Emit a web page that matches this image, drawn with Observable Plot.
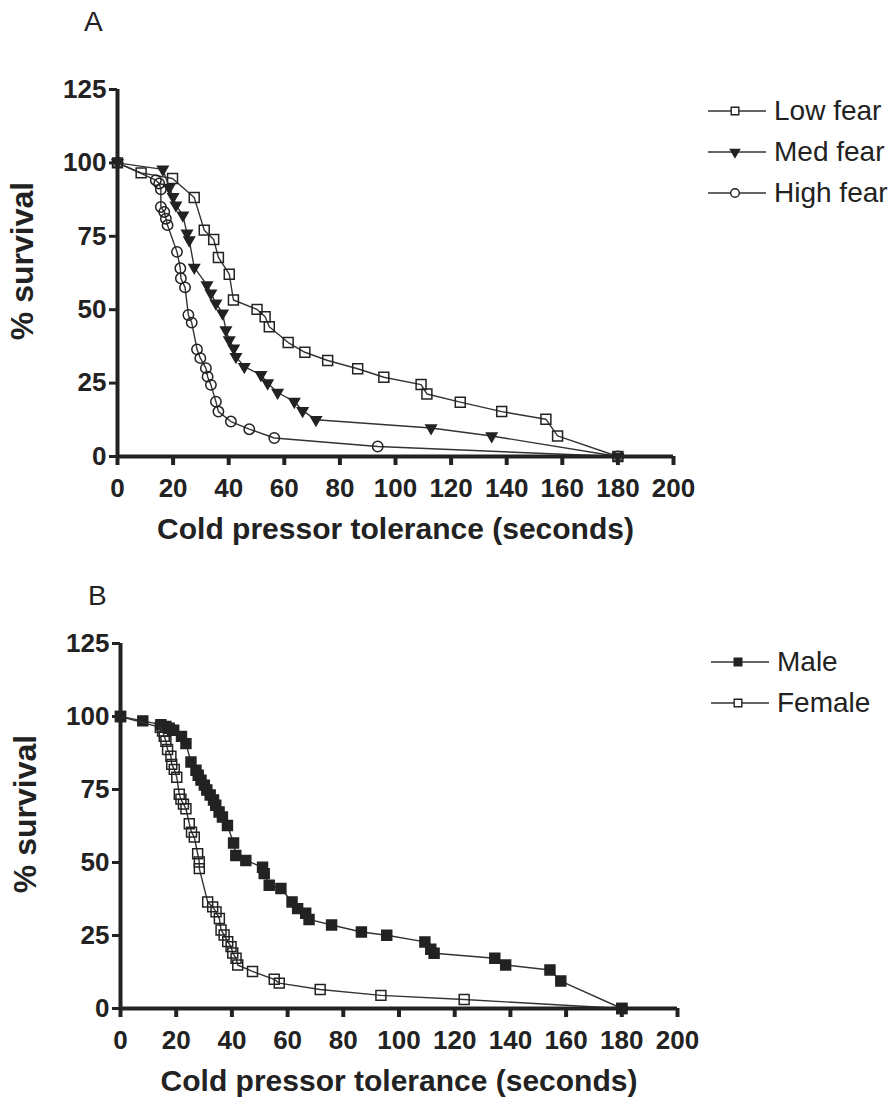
<!DOCTYPE html>
<html>
<head>
<meta charset="utf-8">
<script src="https://cdn.jsdelivr.net/npm/d3@7"></script>
<script src="https://cdn.jsdelivr.net/npm/@observablehq/plot@0.6"></script>
<style>
  html, body { margin: 0; padding: 0; background: #fff; }
  #page { position: relative; width: 896px; height: 1098px; overflow: hidden; font-family: "Liberation Sans", Arial, sans-serif; color: #222; }
  .panel { position: absolute; left: 0; }
  .plabel { position: absolute; font-size: 28px; font-family: "Liberation Sans", Arial, sans-serif; color: #222; line-height: 1; }
  .legend { position: absolute; }
  .legrow { position: absolute; left: 0; height: 30px; display: flex; align-items: center; white-space: nowrap; }
  .legrow span { font-size: 28px; color: #222; margin-left: 6px; }
</style>
</head>
<body>
<div id="page">
  <div class="plabel" style="left:84px; top:8px;">A</div>
  <div class="plabel" style="left:88px; top:582px;">B</div>
  <div id="panelA" class="panel" style="top:0px;"></div>
  <div id="panelB" class="panel" style="top:551px;"></div>
  <div id="legendA" class="legend" style="left:708px; top:0px;"></div>
  <div id="legendB" class="legend" style="left:711px; top:551px;"></div>
</div>
<script>
// ---------- data ----------
const xTicks = [0, 20, 40, 60, 80, 100, 120, 140, 160, 180, 200];
const yTicks = [0, 25, 50, 75, 100, 125];
const xTitle = "Cold pressor tolerance (seconds)";
const yTitle = "% survival";

const seriesA = ["Low fear", "Med fear", "High fear"];
const lowFearT = [0, 8.5, 19.8, 27.6, 31.2, 34.6, 36.3, 40.2, 41.7, 50.2, 53.1, 54.6, 61.4, 67.4, 75.6, 86.4, 95.8, 109.2, 111.3, 123.3, 138.2, 154.1, 158.3, 180];
const lowFearS = [100, 96.6, 94.7, 88.2, 77.1, 73.9, 67.8, 62.1, 53.3, 50.1, 47.6, 44.2, 38.8, 35.5, 32.7, 29.9, 27.0, 24.5, 21.3, 18.5, 15.3, 12.7, 7.0, 0];
const medFearT = [0, 16.3, 18.6, 20.0, 21.0, 23.5, 25.0, 25.8, 27.6, 32.2, 33.6, 35.4, 37.8, 39.0, 40.2, 41.8, 42.6, 45.6, 51.6, 54.0, 57.6, 63.6, 66.6, 71.4, 112.8, 134.6, 180];
const medFearS = [100, 97.8, 91.6, 88.5, 85.6, 82.2, 76.0, 73.7, 64.4, 58.4, 55.6, 52.2, 48.8, 43.1, 39.7, 36.9, 34.0, 30.6, 27.8, 25.0, 21.8, 18.7, 15.6, 12.5, 9.7, 7.0, 0];
const highFearT = [0, 13.8, 15.0, 15.6, 15.6, 16.8, 17.4, 18.0, 21.4, 22.6, 22.8, 24.3, 25.5, 26.7, 28.6, 29.8, 31.8, 32.4, 33.6, 35.4, 36.3, 40.8, 47.4, 56.4, 93.6, 180];
const highFearS = [100, 94.1, 93.0, 91.0, 85.0, 83.3, 81.0, 78.8, 69.7, 64.1, 60.7, 57.6, 48.2, 45.6, 36.5, 33.5, 30.1, 27.2, 24.4, 18.7, 15.3, 11.9, 9.3, 6.3, 3.4, 0];

const seriesB = ["Male", "Female"];
const maleT = [0, 8.0, 14.5, 16.3, 17.5, 19.1, 21.9, 23.5, 25.3, 27.1, 27.9, 28.9, 30.1, 31.0, 32.2, 33.4, 34.2, 35.4, 36.6, 38.4, 40.6, 41.4, 45.0, 51.0, 51.6, 53.4, 57.6, 61.6, 63.6, 66.5, 67.7, 75.8, 86.5, 95.6, 109.3, 111.4, 112.6, 134.4, 138.3, 154.2, 158.1, 180];
const maleS = [100, 98.5, 97.2, 96.6, 96.0, 95.3, 93.2, 90.7, 84.4, 81.6, 79.9, 78.2, 76.5, 74.8, 73.1, 71.4, 69.6, 67.3, 65.6, 62.7, 56.7, 52.4, 50.7, 48.4, 46.2, 42.2, 41.1, 36.5, 34.2, 32.6, 30.5, 28.6, 26.2, 25.1, 22.8, 20.3, 18.9, 17.2, 14.9, 13.2, 9.4, 0];
const femaleT = [0, 14.3, 15.1, 15.7, 16.3, 16.9, 18.1, 18.4, 19.3, 20.2, 21.1, 21.7, 22.6, 23.5, 24.7, 25.5, 26.5, 27.7, 28.3, 28.3, 31.3, 33.1, 34.3, 35.5, 36.1, 37.2, 38.5, 39.7, 40.3, 41.5, 42.1, 47.4, 55.2, 57.0, 71.7, 93.5, 123.4, 180];
const femaleS = [100, 96.3, 95.0, 93.2, 91.5, 88.7, 86.4, 83.6, 81.9, 79.2, 73.4, 71.7, 70.0, 68.4, 63.3, 60.4, 58.7, 53.0, 50.2, 47.9, 36.5, 34.8, 33.1, 30.8, 26.9, 25.2, 22.9, 21.2, 19.0, 17.2, 14.9, 12.7, 10.0, 8.7, 6.5, 4.5, 3.1, 0];

// ---------- helpers ----------
const INK = "#222";
const FONT = "'Liberation Sans', Arial, sans-serif";
const toRows = (T, S) => T.map((t, i) => ({t, s: S[i]}));

const styles = {
  "Low fear":  {symbol: "square", fill: "none", rotate: 0, r: 5.6},
  "Med fear":  {symbol: "triangle", fill: INK, rotate: 180, r: 3.9},
  "High fear": {symbol: "circle", fill: "none", rotate: 0, r: 5.2},
  "Male":      {symbol: "square", fill: INK, rotate: 0, r: 5.6},
  "Female":    {symbol: "square", fill: "none", rotate: 0, r: 5.6}
};

function seriesMarks(name, rows) {
  const st = styles[name];
  return [
    Plot.line(rows, {x: "t", y: "s", stroke: "#333", strokeWidth: 1.4}),
    Plot.dot(rows, {x: "t", y: "s", symbol: st.symbol, r: st.r, rotate: st.rotate,
                    fill: st.fill, stroke: INK, strokeWidth: 1.5})
  ];
}

function panel(opts) {
  const {height, marginTop, marginBottom, marginLeft, marginRight, series} = opts;
  return Plot.plot({
    width: 896, height, marginTop, marginBottom, marginLeft, marginRight,
    style: {fontFamily: FONT, fontSize: "26px", fontWeight: "bold", color: INK, background: "transparent", overflow: "visible"},
    x: {domain: [0, 200], ticks: xTicks, label: null},
    y: {domain: [0, 125], ticks: yTicks, label: null},
    marks: [
      ...series.flatMap(([name, rows]) => seriesMarks(name, rows)),
      Plot.ruleY([0], {x1: 0, x2: 200, stroke: INK, strokeWidth: 4}),
      Plot.ruleX([0], {y1: 0, y2: 125, stroke: INK, strokeWidth: 4}),
      Plot.axisX(xTicks, {tickSize: 9, tickPadding: 13, strokeWidth: 4, stroke: INK, fill: INK}),
      Plot.axisY(yTicks, {tickSize: 8, tickPadding: 3, strokeWidth: 3, stroke: INK, fill: INK}),
      Plot.text([xTitle], {frameAnchor: "bottom", dy: 82, fontSize: 30, fontWeight: "bold", fill: INK}),
      Plot.text([yTitle], {frameAnchor: "left", textAnchor: "middle", rotate: -90, dx: -95, dy: -12, fontSize: 32, fontWeight: "bold", fill: INK})
    ]
  });
}

document.getElementById("panelA").appendChild(panel({
  height: 551, marginTop: 89, marginBottom: 95, marginLeft: 117, marginRight: 223,
  series: [["Low fear", toRows(lowFearT, lowFearS)], ["Med fear", toRows(medFearT, medFearS)], ["High fear", toRows(highFearT, highFearS)]]
}));
document.getElementById("panelB").appendChild(panel({
  height: 547, marginTop: 92, marginBottom: 90, marginLeft: 120, marginRight: 219,
  series: [["Male", toRows(maleT, maleS)], ["Female", toRows(femaleT, femaleS)]]
}));

// ---------- legends ----------
function legend(el, names, tops) {
  names.forEach((name, i) => {
    const st = styles[name];
    const row = document.createElement("div");
    row.className = "legrow";
    row.style.top = (tops[i] - 15) + "px";
    const rr = st.symbol === "triangle" ? 3.4 : 4.3;
    const sym = d3.symbol({circle: d3.symbolCircle, square: d3.symbolSquare, triangle: d3.symbolTriangle}[st.symbol],
                          Math.PI * rr * rr)();
    row.innerHTML = `<svg width="60" height="30" style="display:block">
      <line x1="0" x2="58" y1="15" y2="15" stroke="#333" stroke-width="1.4"/>
      <path d="${sym}" transform="translate(27,15) rotate(${st.rotate})" fill="${st.fill === "none" ? "#fff" : st.fill}" stroke="${INK}" stroke-width="1.4"/>
    </svg><span>${name}</span>`;
    el.appendChild(row);
  });
}
legend(document.getElementById("legendA"), seriesA, [111, 152, 193]);
legend(document.getElementById("legendB"), seriesB, [111, 152]);
</script>
</body>
</html>
